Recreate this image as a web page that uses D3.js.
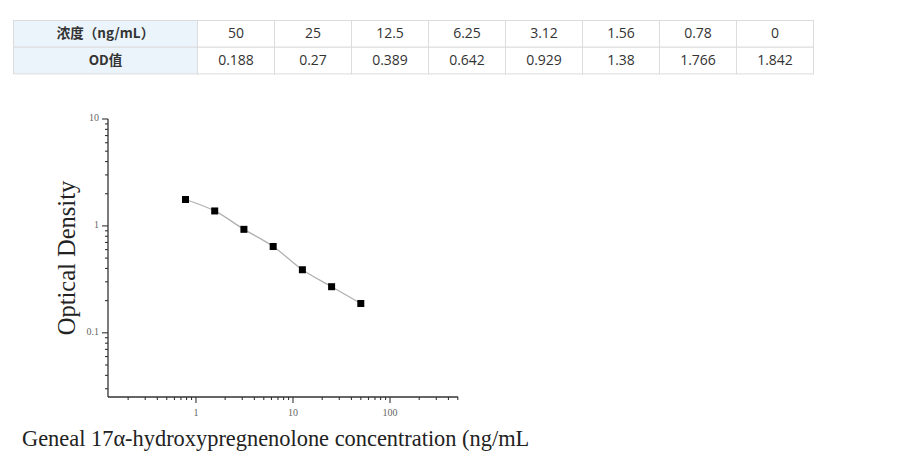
<!DOCTYPE html>
<html><head><meta charset="utf-8">
<script src="https://cdn.jsdelivr.net/npm/d3@7"></script>
<style>
html,body{margin:0;padding:0;background:#fff;}
svg{display:block;}
</style></head>
<body>
<svg id="c" width="910" height="454"></svg>
<script>
// ---- data ----
const headerLabels = ["浓度（ng/mL）", "OD值"];
const concLabels = ["50", "25", "12.5", "6.25", "3.12", "1.56", "0.78", "0"];
const concentrations = [50, 25, 12.5, 6.25, 3.12, 1.56, 0.78, 0];
const odLabels = ["0.188", "0.27", "0.389", "0.642", "0.929", "1.38", "1.766", "1.842"];
const odValues = [0.188, 0.27, 0.389, 0.642, 0.929, 1.38, 1.766, 1.842];
const xTickLabels = ["1", "10", "100"];
const yTickLabels = ["0.1", "1", "10"];
const xTitle = "Geneal 17α-hydroxypregnenolone concentration (ng/mL";
const yTitle = "Optical Density";

const svg = d3.select("#c");

// ---- table ----
const tX0 = 13.5, tY0 = 20.5, headW = 184, colW = 77, rowH = 26.7;
const tbl = svg.append("g");
const rows = [concLabels, odLabels];
rows.forEach((r, i) => {
  const y = tY0 + i * rowH;
  tbl.append("rect").attr("x", tX0).attr("y", y).attr("width", headW).attr("height", rowH)
    .attr("fill", "#ebf3fb").attr("stroke", "#dcdcdc");
  tbl.append("text").attr("x", tX0 + headW / 2).attr("y", y + rowH / 2 + 0.5)
    .attr("text-anchor", "middle").attr("dominant-baseline", "middle")
    .attr("font-family", "'Noto Sans CJK SC', 'Open Sans', sans-serif").attr("font-size", 13.5)
    .attr("font-weight", "bold").attr("fill", "#333").text(headerLabels[i]);
  r.forEach((v, j) => {
    const x = tX0 + headW + j * colW;
    tbl.append("rect").attr("x", x).attr("y", y).attr("width", colW).attr("height", rowH)
      .attr("fill", "#fff").attr("stroke", "#dcdcdc");
    tbl.append("text").attr("x", x + colW / 2).attr("y", y + rowH / 2 + 0.5)
      .attr("text-anchor", "middle").attr("dominant-baseline", "middle")
      .attr("font-family", "'Open Sans', 'Noto Sans', sans-serif").attr("font-size", 14)
      .attr("fill", "#333").text(v);
  });
});

// ---- chart ----
const x = d3.scaleLog().domain([0.124, 502]).range([108, 458]);
const y = d3.scaleLog().domain([0.0251, 10]).range([397, 119]);
const axisColor = "#333";
const g = svg.append("g");

// axis lines
g.append("line").attr("x1", 108).attr("x2", 458).attr("y1", 397).attr("y2", 397)
  .attr("stroke", axisColor).attr("stroke-width", 1.3);
g.append("line").attr("x1", 108).attr("x2", 108).attr("y1", 119).attr("y2", 397)
  .attr("stroke", axisColor).attr("stroke-width", 1.3);

// x ticks
const xTicks = x.ticks();
xTicks.forEach(t => {
  const major = Math.abs(Math.log10(t) - Math.round(Math.log10(t))) < 1e-9;
  g.append("line").attr("x1", x(t)).attr("x2", x(t)).attr("y1", 397).attr("y2", 397 + (major ? 6 : 3))
    .attr("stroke", axisColor).attr("stroke-width", 1.1);
});
xTickLabels.forEach(l => {
  g.append("text").attr("x", x(+l)).attr("y", 416).attr("text-anchor", "middle")
    .attr("font-family", "'Liberation Serif', serif").attr("font-size", 10).attr("fill", "#666").text(l);
});

// y ticks
const yTicks = y.ticks();
yTicks.forEach(t => {
  const major = Math.abs(Math.log10(t) - Math.round(Math.log10(t))) < 1e-9;
  g.append("line").attr("x1", 108).attr("x2", 108 - (major ? 6 : 3)).attr("y1", y(t)).attr("y2", y(t))
    .attr("stroke", axisColor).attr("stroke-width", 1.1);
});
yTickLabels.forEach(l => {
  g.append("text").attr("x", 99).attr("y", y(+l)).attr("text-anchor", "end")
    .attr("dominant-baseline", "middle")
    .attr("font-family", "'Liberation Serif', serif").attr("font-size", 10).attr("fill", "#666").text(l);
});

// curve
const pts = concentrations.map((c, i) => ({c, od: odValues[i]})).filter(d => d.c > 0)
  .sort((a, b) => a.c - b.c);
const line = d3.line().x(d => x(d.c)).y(d => y(d.od)).curve(d3.curveCatmullRom.alpha(0.5));
g.append("path").datum(pts).attr("d", line).attr("fill", "none")
  .attr("stroke", "#b0b0b0").attr("stroke-width", 1.3);
g.selectAll("rect.pt").data(pts).enter().append("rect").attr("class", "pt")
  .attr("x", d => x(d.c) - 3.5).attr("y", d => y(d.od) - 3.5)
  .attr("width", 7).attr("height", 7).attr("fill", "#000");

// titles
svg.append("text").attr("transform", "translate(75,258) rotate(-90)").attr("text-anchor", "middle")
  .attr("font-family", "'Liberation Serif', serif").attr("font-size", 24.5).attr("fill", "#222").text(yTitle);
svg.append("text").attr("x", 22).attr("y", 446)
  .attr("font-family", "'Liberation Serif', serif").attr("font-size", 22.4).attr("fill", "#222").text(xTitle);
</script>
</body></html>
